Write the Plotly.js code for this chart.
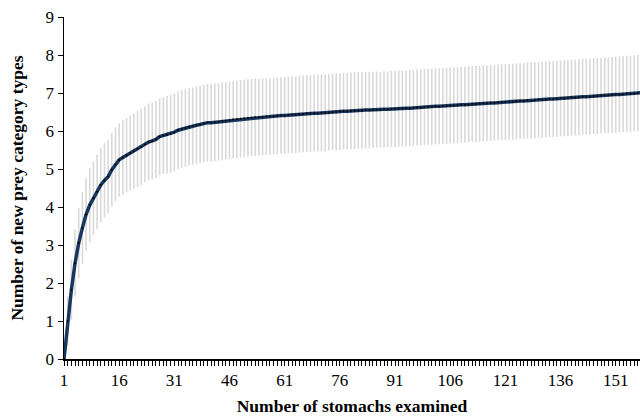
<!DOCTYPE html>
<html>
<head>
<meta charset="utf-8">
<script src="https://cdn.plot.ly/plotly-3.0.1.min.js"></script>
<style>html,body{margin:0;padding:0;background:#fff;}#chart{width:640px;height:416px;}</style>
</head>
<body>
<div id="chart"></div>
<script>
// Mean cumulative number of prey category types for stomachs 1..158
const meanTypes = [
 0.00,1.00,1.82,2.52,3.05,3.45,3.80,4.05,4.23,4.40,
 4.58,4.70,4.80,4.98,5.12,5.24,5.30,5.36,5.42,5.47,
 5.53,5.58,5.65,5.71,5.74,5.78,5.85,5.88,5.90,5.93,
 5.97,6.02,6.05,6.08,6.11,6.13,6.15,6.17,6.20,6.22,
 6.22,6.23,6.24,6.26,6.27,6.28,6.30,6.31,6.32,6.33,
 6.34,6.35,6.36,6.36,6.37,6.38,6.38,6.39,6.40,6.41,
 6.41,6.42,6.43,6.43,6.44,6.45,6.46,6.46,6.47,6.47,
 6.48,6.48,6.49,6.50,6.50,6.51,6.52,6.52,6.53,6.53,
 6.54,6.54,6.55,6.55,6.56,6.56,6.56,6.57,6.57,6.58,
 6.58,6.59,6.59,6.60,6.60,6.61,6.62,6.62,6.63,6.64,
 6.64,6.65,6.65,6.66,6.66,6.67,6.67,6.68,6.69,6.69,
 6.70,6.71,6.71,6.72,6.73,6.73,6.74,6.74,6.75,6.76,
 6.76,6.77,6.77,6.78,6.79,6.79,6.80,6.80,6.81,6.82,
 6.82,6.83,6.84,6.84,6.85,6.86,6.86,6.87,6.88,6.88,
 6.89,6.90,6.90,6.91,6.92,6.92,6.93,6.94,6.94,6.95,
 6.96,6.96,6.97,6.98,6.98,6.99,7.00,7.01
];
// Standard deviation (error bar half-length)
const sdTypes = [
 0.00,0.65,0.80,0.88,0.92,0.95,0.96,0.97,0.97,0.98,
 0.98,0.98,0.97,0.97,0.97,0.97,0.98,0.98,0.99,0.99,
 1.00,1.00,1.00,1.01,1.01,1.01,1.01,1.01,1.02,1.02,
 1.02,1.02,1.02,1.02,1.02,1.02,1.02,1.02,1.02,1.02,
 1.02,1.02,1.02,1.02,1.02,1.02,1.02,1.02,1.02,1.02,
 1.02,1.02,1.02,1.01,1.01,1.01,1.01,1.01,1.01,1.01,
 1.01,1.01,1.01,1.01,1.01,1.01,1.01,1.01,1.01,1.01,
 1.01,1.01,1.01,1.01,1.01,1.01,1.01,1.01,1.01,1.01,
 1.01,1.01,1.01,1.01,1.00,1.00,1.00,1.00,1.00,1.00,
 1.00,1.00,1.00,1.00,1.00,1.00,1.00,1.00,1.00,1.00,
 1.00,1.00,1.00,1.00,1.00,1.00,1.00,1.00,1.00,1.00,
 1.00,1.00,1.00,1.00,1.00,1.00,1.00,1.00,1.00,1.00,
 1.00,1.00,1.00,1.00,1.00,1.00,1.00,1.00,1.00,1.00,
 1.00,1.00,1.00,1.00,1.00,1.00,1.00,1.00,1.00,1.00,
 1.00,1.00,1.00,1.00,1.00,1.00,1.00,1.00,1.00,1.00,
 1.00,1.00,1.00,1.00,1.00,1.00,1.00,1.00
];
const stomachs = meanTypes.map((_, i) => i + 1);
const xTickVals = [1,16,31,46,61,76,91,106,121,136,151];
const xTickText = ["1","16","31","46","61","76","91","106","121","136","151"];

const traces = [
  {
    x: stomachs, y: meanTypes, type: 'scatter', mode: 'markers',
    marker: {size: 1, opacity: 0},
    error_y: {type: 'data', array: sdTypes, visible: true, color: '#d9d9d9', thickness: 1.6, width: 0},
    hoverinfo: 'skip', showlegend: false
  },
  {
    x: stomachs, y: meanTypes, type: 'scatter', mode: 'lines+markers',
    line: {color: '#17375e', width: 3.5},
    marker: {color: '#000', size: 2},
    showlegend: false
  }
];

const fam = '"Liberation Serif", "Times New Roman", serif';

const layout = {
  width: 640, height: 416,
  margin: {l: 64, r: 0, t: 17, b: 57},
  paper_bgcolor: '#fff', plot_bgcolor: '#fff',
  font: {family: fam, color: '#000', size: 17},
  showlegend: false,
  xaxis: {
    range: [1, 157.6],
    tickmode: 'array', tickvals: xTickVals, ticktext: xTickText,
    ticks: 'outside', ticklen: 5, tickwidth: 1, tickcolor: '#000',
    minor: {dtick: 1, tick0: 1, ticks: 'outside', ticklen: 5, tickwidth: 1, tickcolor: '#000'},
    showline: true, linecolor: '#000', linewidth: 1.5,
    showgrid: false, zeroline: false,
    tickfont: {family: fam, size: 17, color: '#000'},
    title: {text: 'Number of stomachs examined', font: {family: fam, size: 17.5, color: '#000', weight: 'bold'}, standoff: 12}
  },
  yaxis: {
    range: [0, 9], dtick: 1, tick0: 0,
    ticks: 'outside', ticklen: 5, tickwidth: 1, tickcolor: '#000',
    showline: true, linecolor: '#000', linewidth: 1.5,
    showgrid: false, zeroline: false,
    tickfont: {family: fam, size: 17, color: '#000'},
    title: {text: 'Number of new prey category types', font: {family: fam, size: 17.5, color: '#000', weight: 'bold'}, standoff: 17}
  }
};

Plotly.newPlot('chart', traces, layout, {staticPlot: true, displayModeBar: false});
</script>
</body>
</html>
